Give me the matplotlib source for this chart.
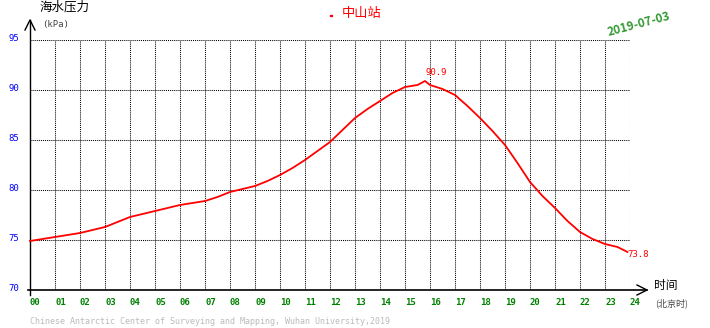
import matplotlib.pyplot as plt
import matplotlib.transforms as mtransforms
import numpy as np

plt.rcParams['font.family'] = ['Noto Sans CJK SC', 'DejaVu Sans']

# pressure readings over the day (hour, kPa)
hours = [0.0, 0.5, 1.0, 1.5, 2.0, 2.5, 3.0, 3.5, 4.0, 4.5, 5.0, 5.5, 6.0, 6.5,
         7.0, 7.5, 8.0, 8.5, 9.0, 9.5, 10.0, 10.5, 11.0, 11.5, 12.0, 12.5,
         13.0, 13.5, 14.0, 14.5, 15.0, 15.5, 15.8, 16.0, 16.5, 17.0, 17.5,
         18.0, 18.5, 19.0, 19.5, 20.0, 20.5, 21.0, 21.5, 22.0, 22.5, 23.0,
         23.5, 23.9]
pressure = [74.9, 75.1, 75.3, 75.5, 75.7, 76.0, 76.3, 76.8, 77.3, 77.6, 77.9,
            78.2, 78.5, 78.7, 78.9, 79.3, 79.8, 80.1, 80.4, 80.9, 81.5, 82.2,
            83.0, 83.9, 84.8, 86.0, 87.2, 88.1, 88.9, 89.7, 90.3, 90.5, 90.9,
            90.5, 90.1, 89.5, 88.4, 87.2, 85.9, 84.5, 82.7, 80.8, 79.4, 78.2,
            76.9, 75.8, 75.1, 74.6, 74.3, 73.8]
hour_labels = ['%02d' % h for h in range(25)]
y_ticks = [70, 75, 80, 85, 90, 95]

fig = plt.figure(figsize=(7.10, 3.28), dpi=100)
ax = fig.add_axes([30/710, 38/328, 600/710, 250/328])
ax.set_xlim(0, 24)
ax.set_ylim(70, 95)

dots = dict(color='black', lw=0.75, linestyle=(0, (1, 1)))
for h in range(1, 25):
    ax.axvline(h, **dots)
for v in y_ticks[1:]:
    ax.axhline(v, **dots)
for s in ax.spines.values():
    s.set_visible(False)

# axes with open arrow heads
ax.plot([0, 0], [69.5, 97.0], color='black', lw=1, clip_on=False)
ax.plot([-0.2, 0, 0.2], [96.0, 97.0, 96.0], color='black', lw=1, clip_on=False)
ax.plot([-0.08, 24.68], [70, 70], color='black', lw=1.2, clip_on=False)
ax.plot([24.28, 24.68, 24.28], [70.5, 70, 69.5], color='black', lw=1, clip_on=False)

ax.plot(hours, pressure, color='red', lw=1.3, clip_on=False)

ax.set_xticks(range(25))
ax.set_xticklabels(hour_labels, family='DejaVu Sans Mono', fontsize=6.5,
                   color='green', weight='bold', ha='left')
ax.set_yticks(y_ticks)
ax.set_yticklabels([str(v) for v in y_ticks], family='DejaVu Sans Mono',
                   fontsize=6.5, color='blue', va='center_baseline')
ax.tick_params(axis='x', length=0, pad=6)
ax.tick_params(axis='y', length=0, pad=8)
# lift the y labels a little above their grid lines
lift = mtransforms.ScaledTranslation(0, 3/100, fig.dpi_scale_trans)
for lab in ax.get_yticklabels():
    lab.set_transform(lab.get_transform() + lift)

# peak and last value
i_max = int(np.argmax(pressure))
ax.annotate('%.1f' % pressure[i_max], (hours[i_max], pressure[i_max]),
            xytext=(0, 4), textcoords='offset pixels', color='red',
            family='DejaVu Sans Mono', fontsize=6.5, ha='left', va='bottom')
ax.annotate('%.1f' % pressure[-1], (hours[-1], pressure[-1]),
            xytext=(0, -2), textcoords='offset pixels', color='red',
            family='DejaVu Sans Mono', fontsize=6.5, ha='left', va='center')

fig.text(40/710, 1 - 7/328, '海水压力', fontsize=9, va='center', ha='left')
fig.text(42/710, 1 - 25/328, '(kPa)', fontsize=6.5, family='DejaVu Sans Mono',
         color='#444444', va='center', ha='left')
fig.text(342/710, 1 - 14/328, '中山站', fontsize=9.5, color='red',
         va='center', ha='left')
fig.patches.append(plt.Rectangle((330/710, 1 - 16/328), 1.5/710, 1.5/328,
                                 color='red', transform=fig.transFigure))
fig.text(639/710, 1 - 24/328, '2019-07-03', fontsize=8.5, color='#339933',
         weight='bold', rotation=15, va='center', ha='center')
fig.text(654/710, 1 - 285/328, '时间', fontsize=8.5, va='center', ha='left')
fig.text(655/710, 1 - 303/328, '(北京时)', fontsize=6.5, color='#444444',
         va='center', ha='left')
fig.text(30/710, 1 - 321/328,
         'Chinese Antarctic Center of Surveying and Mapping, Wuhan University,2019',
         family='DejaVu Sans Mono', fontsize=6, color='#bbbbbb',
         va='center', ha='left')

fig.savefig('out.png', dpi=100)
